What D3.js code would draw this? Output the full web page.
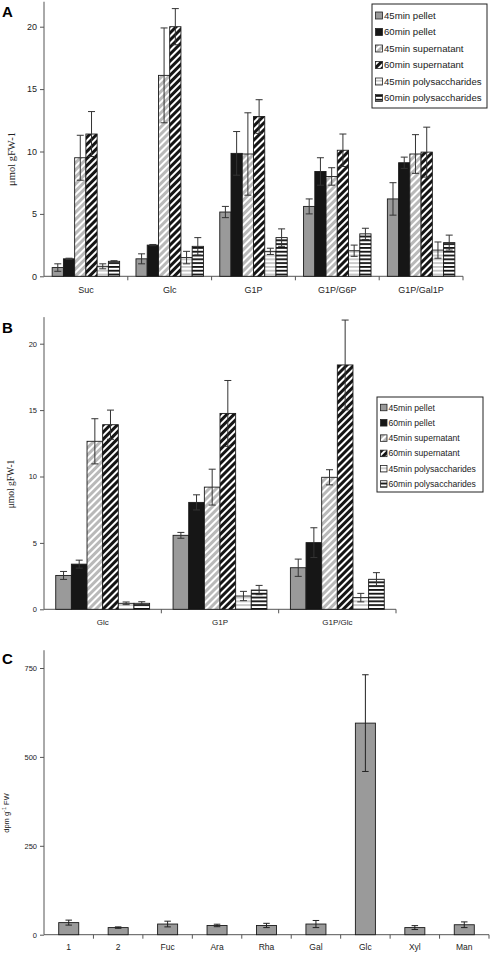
<!DOCTYPE html>
<html><head><meta charset="utf-8">
<script src="https://cdn.jsdelivr.net/npm/d3@7"></script>
<style>body{margin:0;background:#fff}svg{display:block}</style>
</head><body>
<script>
// ---------- DATA ----------
const seriesNames = ["45min pellet","60min pellet","45min supernatant","60min supernatant","45min polysaccharides","60min polysaccharides"];

// Panel A
const catsA = ["Suc","Glc","G1P","G1P/G6P","G1P/Gal1P"];
const pellet45A = [0.7, 1.4, 5.15, 5.6, 6.2];
const pellet60A = [1.4, 2.5, 9.85, 8.4, 9.1];
const super45A  = [9.5, 16.1, 9.8, 8.0, 9.8];
const super60A  = [11.4, 20.0, 12.8, 10.1, 9.95];
const poly45A   = [0.8, 1.5, 2.0, 2.05, 2.1];
const poly60A   = [1.2, 2.4, 3.1, 3.4, 2.7];
const pellet45AErr = [0.3, 0.4, 0.45, 0.6, 1.3];
const pellet60AErr = [0.05, 0.05, 1.75, 1.1, 0.45];
const super45AErr  = [1.8, 3.8, 3.3, 0.7, 1.55];
const super60AErr  = [1.8, 1.45, 1.35, 1.3, 2.0];
const poly45AErr   = [0.2, 0.5, 0.25, 0.45, 0.65];
const poly60AErr   = [0.05, 0.7, 0.7, 0.45, 0.6];
const ticksA = [0, 5, 10, 15, 20];

// Panel B
const catsB = ["Glc","G1P","G1P/Glc"];
const pellet45B = [2.55, 5.57, 3.13];
const pellet60B = [3.4, 8.05, 5.02];
const super45B  = [12.65, 9.2, 9.94];
const super60B  = [13.9, 14.75, 18.4];
const poly45B   = [0.45, 1.0, 0.88];
const poly60B   = [0.45, 1.45, 2.26];
const pellet45BErr = [0.3, 0.22, 0.65];
const pellet60BErr = [0.3, 0.57, 1.12];
const super45BErr  = [1.7, 1.35, 0.57];
const super60BErr  = [1.1, 2.48, 3.38];
const poly45BErr   = [0.1, 0.35, 0.32];
const poly60BErr   = [0.12, 0.35, 0.5];
const ticksB = [0, 5, 10, 15, 20];

// Panel C
const catsC = ["1","2","Fuc","Ara","Rha","Gal","Glc","Xyl","Man"];
const valsC = [34, 20, 30, 26, 26, 30, 595, 20, 28];
const errC  = [7, 2, 8, 3.5, 6, 10, 136, 5.5, 8];
const ticksC = [0, 250, 500, 750];

// ---------- DRAW ----------
const W = 498, H = 953;
const svg = d3.select("body").append("svg").attr("width", W).attr("height", H);
const defs = svg.append("defs");
const SANS = "'Liberation Sans', Arial, sans-serif";
const SERIF = "'Liberation Serif', 'Times New Roman', serif";

function diagPattern(id, bg, fg) {
  const p = defs.append("pattern").attr("id", id).attr("patternUnits", "userSpaceOnUse")
    .attr("width", 5).attr("height", 5).attr("patternTransform", "rotate(45)");
  p.append("rect").attr("width", 5).attr("height", 5).attr("fill", bg);
  p.append("rect").attr("x", 0).attr("width", 2).attr("height", 5).attr("fill", fg);
}
function horizPattern(id, bg, fg) {
  const p = defs.append("pattern").attr("id", id).attr("patternUnits", "userSpaceOnUse")
    .attr("width", 4).attr("height", 3.8);
  p.append("rect").attr("width", 4).attr("height", 3.8).attr("fill", bg);
  p.append("rect").attr("y", 0).attr("width", 4).attr("height", 1.8).attr("fill", fg);
}
diagPattern("sup45", "#b9b9b9", "#ffffff");
diagPattern("sup60", "#151515", "#ffffff");
horizPattern("pol45", "#ffffff", "#c6c6c6");
horizPattern("pol60", "#ffffff", "#111111");
const fills = ["#9a9a9a", "#161616", "url(#sup45)", "url(#sup60)", "url(#pol45)", "url(#pol60)"];

function drawGrouped(cfg) {
  const g = svg.append("g");
  const x = d3.scaleBand().domain(cfg.cats).range([cfg.x0, cfg.x1]).paddingInner(0).paddingOuter(0);
  const y = d3.scaleLinear().domain([0, cfg.ymax]).range([cfg.y0, cfg.yTop]);
  const groupW = x.bandwidth() * cfg.groupFrac;
  const xs = d3.scaleBand().domain(d3.range(cfg.series.length)).range([(x.bandwidth() - groupW) / 2, (x.bandwidth() + groupW) / 2]);

  // axes
  const yAx = g.append("g").attr("transform", `translate(${cfg.x0},0)`)
    .call(d3.axisLeft(y).tickValues(cfg.ticks).tickSize(4).tickPadding(3).tickSizeOuter(0));
  yAx.select(".domain").attr("stroke", "#555").attr("d", `M0,${cfg.y0}V${cfg.yTop}`);
  yAx.selectAll(".tick line").attr("stroke", "#555");
  yAx.selectAll(".tick text").attr("font-family", SANS).attr("font-size", cfg.tickFont).attr("fill", "#222");

  const xAx = g.append("g").attr("transform", `translate(0,${cfg.y0})`);
  xAx.append("line").attr("x1", cfg.x0).attr("x2", cfg.x1).attr("stroke", "#555");
  const bounds = cfg.cats.map(c => x(c)).concat([cfg.x1]);
  xAx.selectAll(".bt").data(bounds.slice(1)).join("line")
    .attr("x1", d => d).attr("x2", d => d).attr("y1", 0).attr("y2", 4).attr("stroke", "#555");
  xAx.selectAll(".lbl").data(cfg.cats).join("text")
    .attr("x", d => x(d) + x.bandwidth() / 2).attr("y", cfg.labelDy)
    .attr("text-anchor", "middle").attr("font-family", SANS).attr("font-size", cfg.catFont).attr("fill", "#222")
    .text(d => d);

  // bars
  cfg.series.forEach((vals, si) => {
    const sg = g.append("g");
    sg.selectAll("rect").data(vals).join("rect")
      .attr("x", (d, i) => x(cfg.cats[i]) + xs(si))
      .attr("width", xs.bandwidth())
      .attr("y", d => y(d))
      .attr("height", d => cfg.y0 - y(d))
      .attr("fill", fills[si]).attr("stroke", "#1a1a1a").attr("stroke-width", 0.9);
    const errs = cfg.errs[si];
    const cw = cfg.capW;
    vals.forEach((v, i) => {
      const cx = x(cfg.cats[i]) + xs(si) + xs.bandwidth() / 2;
      const hi = y(v + errs[i]), lo = y(Math.max(0, v - errs[i]));
      sg.append("line").attr("x1", cx).attr("x2", cx).attr("y1", hi).attr("y2", lo).attr("stroke", "#333").attr("stroke-width", 1);
      sg.append("line").attr("x1", cx - cw / 2).attr("x2", cx + cw / 2).attr("y1", hi).attr("y2", hi).attr("stroke", "#333").attr("stroke-width", 1);
      sg.append("line").attr("x1", cx - cw / 2).attr("x2", cx + cw / 2).attr("y1", lo).attr("y2", lo).attr("stroke", "#333").attr("stroke-width", 1);
    });
  });

  // y label
  g.append("text").attr("transform", `translate(${cfg.ylabX},${cfg.ylabY}) rotate(-90)`)
    .attr("text-anchor", "middle").attr("font-family", SERIF).attr("font-size", cfg.ylabFont).attr("fill", "#222")
    .text("\u03bcmol gFW-1");

  // legend
  const L = cfg.legend;
  const lg = g.append("g");
  lg.append("rect").attr("x", L.x).attr("y", L.y).attr("width", L.w).attr("height", L.h)
    .attr("fill", "#fff").attr("stroke", "#222").attr("stroke-width", 1);
  seriesNames.forEach((n, i) => {
    const cy = L.y + L.first + i * L.step;
    lg.append("rect").attr("x", L.x + 3.5).attr("y", cy - L.sw / 2).attr("width", L.sw).attr("height", L.sw)
      .attr("fill", fills[i]).attr("stroke", "#222").attr("stroke-width", 0.8);
    lg.append("text").attr("x", L.x + 5 + L.sw).attr("y", cy).attr("dy", "0.35em")
      .attr("font-family", SANS).attr("font-size", L.font).attr("fill", "#222").text(n);
  });

  // panel letter
  svg.append("text").attr("x", 2).attr("y", cfg.letterY).attr("font-family", SANS).attr("font-weight", "bold")
    .attr("font-size", 15).attr("fill", "#000").text(cfg.letter);
}

drawGrouped({
  letter: "A", letterY: 17,
  cats: catsA, series: [pellet45A, pellet60A, super45A, super60A, poly45A, poly60A],
  errs: [pellet45AErr, pellet60AErr, super45AErr, super60AErr, poly45AErr, poly60AErr],
  ticks: ticksA, ymax: 22, x0: 44, x1: 463, y0: 276.3, yTop: 276.3 - 22 * 12.48,
  groupFrac: 0.805, capW: 7, tickFont: 9, catFont: 9, labelDy: 17,
  ylabX: 15, ylabY: 159, ylabFont: 10.5,
  legend: { x: 372, y: 4, w: 115, h: 104, first: 11.5, step: 16.5, sw: 7, font: 9.6 }
});

drawGrouped({
  letter: "B", letterY: 333,
  cats: catsB, series: [pellet45B, pellet60B, super45B, super60B, poly45B, poly60B],
  errs: [pellet45BErr, pellet60BErr, super45BErr, super60BErr, poly45BErr, poly60BErr],
  ticks: ticksB, ymax: 22, x0: 44, x1: 396, y0: 609.3, yTop: 609.3 - 22 * 13.28,
  groupFrac: 0.80, capW: 7, tickFont: 7.5, catFont: 8, labelDy: 16,
  ylabX: 14, ylabY: 484, ylabFont: 9.5,
  legend: { x: 377, y: 397, w: 106, h: 95, first: 10.5, step: 15.3, sw: 6.5, font: 8.6 }
});

// Panel C
(function () {
  const x0 = 44, x1 = 489, y0 = 934.7, yTop = 934.7 - 800 * 0.3556;
  const g = svg.append("g");
  const x = d3.scaleBand().domain(catsC).range([x0, x1]).paddingInner(0.595).paddingOuter(0.2975);
  const xb = d3.scaleBand().domain(catsC).range([x0, x1]);
  const y = d3.scaleLinear().domain([0, 800]).range([y0, yTop]);
  const yAx = g.append("g").attr("transform", `translate(${x0},0)`)
    .call(d3.axisLeft(y).tickValues(ticksC).tickSize(4).tickPadding(3).tickSizeOuter(0));
  yAx.select(".domain").attr("stroke", "#555").attr("d", `M0,${y0}V${yTop}`);
  yAx.selectAll(".tick line").attr("stroke", "#555");
  yAx.selectAll(".tick text").attr("font-family", SANS).attr("font-size", 7.5).attr("fill", "#222");
  const xAx = g.append("g").attr("transform", `translate(0,${y0})`);
  xAx.append("line").attr("x1", x0).attr("x2", x1).attr("stroke", "#555");
  xAx.selectAll(".bt").data(catsC.map(c => xb(c) + xb.bandwidth())).join("line")
    .attr("x1", d => d).attr("x2", d => d).attr("y1", 0).attr("y2", 4).attr("stroke", "#555");
  xAx.selectAll(".lbl").data(catsC).join("text")
    .attr("x", d => xb(d) + xb.bandwidth() / 2).attr("y", 15)
    .attr("text-anchor", "middle").attr("font-family", SANS).attr("font-size", 8.5).attr("fill", "#222").text(d => d);
  g.selectAll(".bar").data(valsC).join("rect")
    .attr("x", (d, i) => x(catsC[i])).attr("width", x.bandwidth())
    .attr("y", d => y(d)).attr("height", d => y0 - y(d))
    .attr("fill", "#9a9a9a").attr("stroke", "#1a1a1a").attr("stroke-width", 0.9);
  valsC.forEach((v, i) => {
    const cx = x(catsC[i]) + x.bandwidth() / 2, cw = 6.5;
    const hi = y(v + errC[i]), lo = y(Math.max(0, v - errC[i]));
    g.append("line").attr("x1", cx).attr("x2", cx).attr("y1", hi).attr("y2", lo).attr("stroke", "#222");
    g.append("line").attr("x1", cx - cw / 2).attr("x2", cx + cw / 2).attr("y1", hi).attr("y2", hi).attr("stroke", "#222");
    g.append("line").attr("x1", cx - cw / 2).attr("x2", cx + cw / 2).attr("y1", lo).attr("y2", lo).attr("stroke", "#222");
  });
  const yl = g.append("text").attr("transform", `translate(9,813) rotate(-90)`)
    .attr("text-anchor", "middle").attr("font-family", SANS).attr("font-size", 7.5).attr("fill", "#222");
  yl.append("tspan").text("dpm g");
  yl.append("tspan").attr("dy", -3).attr("font-size", 5.5).text("-1");
  yl.append("tspan").attr("dy", 3).text(" FW");
  svg.append("text").attr("x", 2).attr("y", 664).attr("font-family", SANS).attr("font-weight", "bold")
    .attr("font-size", 15).attr("fill", "#000").text("C");
})();
</script>
</body></html>
